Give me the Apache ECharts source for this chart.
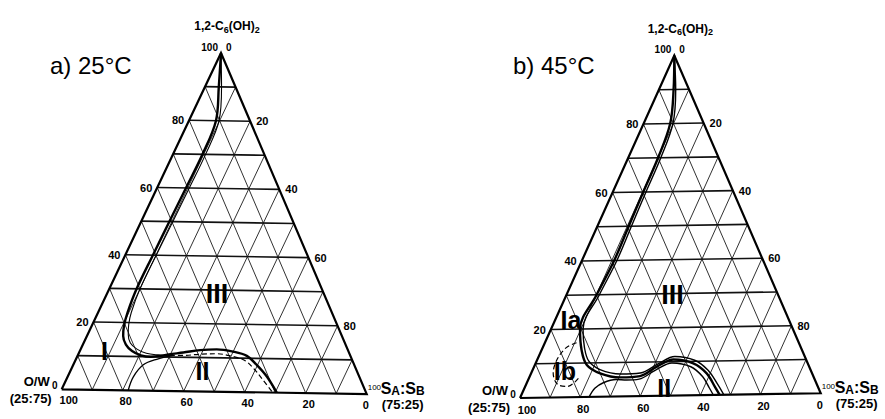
<!DOCTYPE html>
<html><head><meta charset="utf-8">
<script src="https://cdn.jsdelivr.net/npm/echarts@6/dist/echarts.min.js"></script>
<style>html,body{margin:0;padding:0;background:#fff}#c{width:885px;height:419px}</style>
</head><body><div id="c"></div>
<script>
// ================= DATA (ternary compositions, %: [C6(OH)2 (top), SA:SB (right)]) =================
const panelTitles = ['a) 25°C', 'b) 45°C'];
const topComponent = ['1,2-C', '6', '(OH)', '2'];
const leftVertexName = ['O/W', '(25:75)'];
const rightVertexName = ['S', 'A', ':S', 'B', '(75:25)'];
const gridLevels = [10, 20, 30, 40, 50, 60, 70, 80, 90];
const sideTicks = [20, 40, 60, 80];
const bottomTicks = [0, 20, 40, 60, 80, 100];

// panel a) 25 °C
const a_boundaryBold = [[100,0],[90,4.5],[80,8.8],[70,9.6],[60,9.4],[50,9.2],[40,9.0],[30,8.9],[23,9.6],[19,10.5],[16,11.8],[13.5,14],[11.6,17],[10.4,20.5],[10.0,24],[10.3,27],[10.8,29.5],[11.4,33.9],[12.2,39],[12.5,44.3],[11.9,50],[10.7,55.1],[8.1,59.7],[4.7,64.8],[0,70.5]];
const a_boundaryInner = [[100,0],[90,5.4],[80,9.8],[70,10.6],[60,10.5],[50,10.3],[40,10.1],[30,10.0],[23,10.8],[19.5,11.8],[16.5,13.2],[14,15.2],[12.2,18.3],[11,22],[10.6,26],[10.5,30]];
const a_boundaryDashed = [[10.5,30],[10.6,35],[11.0,40],[11.2,45],[10.6,50],[9.4,55],[7,59.3],[3.5,64.3],[0,69.2]];
const a_boundaryII = [[0,21.8],[4,21.4],[7.6,22.8],[9.3,26.3],[10.5,31]];
const a_regions = [['III',28.8,35.9],['I',11.5,8.0],['II',6.0,43.0]];

// panel b) 45 °C
const b_boundaryBold = [[100,0],[90,4.9],[80,8.9],[70,10],[60,10.2],[50,10.5],[40,10.8],[30,10.1],[20,9.7],[13.8,13.4],[9.4,17.4],[6.9,23.1],[5.6,30.4],[5.9,36.9],[8.6,41.1],[10.6,45.6],[9.4,52.8],[6.4,58.8],[2.4,63.6],[0,66.4]];
const b_boundaryOuter = [[100,0],[90,5.6],[80,9.8],[70,10.9],[60,11.1],[50,11.4],[40,11.7],[30,11.0],[20,10.7],[14.5,14],[10.5,17.5],[8,22.5],[6.6,30],[6.8,36.5],[9.5,41.2],[11.5,45.6],[10.3,52.8],[7.3,58.8],[3.4,63.8],[0,67.8]];
const b_boundaryII = [[0,23],[2.5,23.6],[4.1,25.6],[5.0,29.4],[4.8,33],[5.0,37],[7.6,41.2],[9.6,45.6],[8.4,52.5],[5.4,58],[2.0,62],[0,64.3]];
const b_loopIb = [[16.0,10.6],[14.6,7.9],[11,6.6],[7.1,7.4],[3.8,10.6],[3.2,14.2],[5.5,16.6]];
const b_regions = [['III',29.5,35.6],['Ia',22.7,5.3],['Ib',7.7,11.0],['II',2.3,46.8]];

// ================= LAYOUT / STYLE =================
const FONT = "'Liberation Sans',Arial,sans-serif";
const panels = [
  { title: panelTitles[0], titlePos: [50, 53], A: [221, 53], L: [61.7, 389.3], R: [366.7, 394], bottomDy: 11,
    curves: [
      { pts: a_boundaryInner, w: 1.1 },
      { pts: a_boundaryDashed, w: 1.2, dash: true },
      { pts: a_boundaryII, w: 1.3 },
      { pts: a_boundaryBold, w: 2.4 }
    ], regions: a_regions },
  { title: panelTitles[1], titlePos: [513, 53], A: [674.3, 55.5], L: [520, 398], R: [820.7, 393.3], bottomDy: 12,
    curves: [
      { pts: b_boundaryOuter, w: 1.4 },
      { pts: b_boundaryII, w: 1.4 },
      { pts: b_boundaryBold, w: 2.4 },
      { pts: b_loopIb, w: 1.2, dash: true }
    ], regions: b_regions }
];

function tp(p, c, r) {
  const l = 100 - c - r;
  return [(p.L[0] * l + p.R[0] * r + p.A[0] * c) / 100, (p.L[1] * l + p.R[1] * r + p.A[1] * c) / 100];
}
function off(pt, dx, dy) { return [pt[0] + dx, pt[1] + dy]; }
function lbl(pt, text, o) {
  return { value: pt, label: Object.assign({ show: true, position: 'inside', formatter: text, color: '#000',
    opacity: 1, textBorderWidth: 0, fontFamily: FONT, fontSize: 11, fontWeight: 'bold',
    align: 'center', verticalAlign: 'middle' }, o || {}) };
}

const series = [];
panels.forEach(p => {
  const hSeg = [], dSeg = [];
  gridLevels.forEach(k => {
    hSeg.push({ coords: [tp(p, k, 0), tp(p, k, 100 - k)] });
    dSeg.push({ coords: [tp(p, 0, k), tp(p, 100 - k, k)] });
    dSeg.push({ coords: [tp(p, 0, 100 - k), tp(p, 100 - k, 0)] });
  });
  series.push({ type: 'lines', coordinateSystem: 'cartesian2d', silent: true, z: 1, data: dSeg,
    lineStyle: { color: '#1a1a1a', width: 0.9, opacity: 1 } });
  series.push({ type: 'lines', coordinateSystem: 'cartesian2d', silent: true, z: 1, data: hSeg,
    lineStyle: { color: '#111', width: 1.6, opacity: 1 } });
  series.push({ type: 'line', silent: true, z: 2, symbol: 'none',
    data: [tp(p, 0, 0), tp(p, 0, 100), tp(p, 100, 0), tp(p, 0, 0)],
    lineStyle: { color: '#000', width: 2.2, join: 'miter' } });
  p.curves.forEach(cv => {
    series.push({ type: 'line', silent: true, z: 3, symbol: 'none', smooth: 0.35,
      data: cv.pts.map(q => tp(p, q[0], q[1])),
      lineStyle: { color: '#000', width: cv.w, type: cv.dash ? [5, 3] : 'solid' } });
  });

  const labels = [];
  sideTicks.forEach(c => labels.push(lbl(off(tp(p, c, 0), -5, 0), String(c), { align: 'right' })));
  sideTicks.forEach(c => labels.push(lbl(off(tp(p, c, 100 - c), 6, 0), String(100 - c), { align: 'left' })));
  bottomTicks.forEach(r => labels.push(lbl(off(tp(p, 0, r), r === 0 ? 7 : (r === 100 ? -1 : 3), p.bottomDy), String(100 - r))));
  labels.push(lbl(off(tp(p, 100, 0), -3, -6), '100', { align: 'right', fontSize: 10 }));
  labels.push(lbl(off(tp(p, 100, 0), 5, -6), '0', { align: 'left', fontSize: 10 }));
  labels.push(lbl(off(tp(p, 100, 0), 6, -27), '{m|' + topComponent[0] + '}{s|' + topComponent[1] + '}{m|' + topComponent[2] + '}{s|' + topComponent[3] + '}',
    { rich: { m: { fontFamily: FONT, fontSize: 12, fontWeight: 'bold', lineHeight: 16, color: '#000' },
              s: { fontFamily: FONT, fontSize: 9, fontWeight: 'bold', lineHeight: 8, verticalAlign: 'bottom', color: '#000' } } }));
  labels.push(lbl(off(tp(p, 0, 0), -7, -4), '0', { fontSize: 10 }));
  labels.push(lbl(off(tp(p, 0, 0), -12, -8), leftVertexName[0], { align: 'right', fontSize: 13 }));
  labels.push(lbl(off(tp(p, 0, 0), -10, 9), leftVertexName[1], { align: 'right', fontSize: 13 }));
  labels.push(lbl(off(tp(p, 0, 100), 1, -7), '100', { align: 'left', fontSize: 8, fontWeight: 'normal' }));
  labels.push(lbl(off(tp(p, 0, 100), 14, -6),
    '{m|' + rightVertexName[0] + '}{s|' + rightVertexName[1] + '}{m|' + rightVertexName[2] + '}{s|' + rightVertexName[3] + '}',
    { align: 'left', rich: { m: { fontFamily: FONT, fontSize: 16, lineHeight: 18, color: '#000' },
                             s: { fontFamily: FONT, fontSize: 12, lineHeight: 10, verticalAlign: 'bottom', color: '#000' } } }));
  labels.push(lbl(off(tp(p, 0, 100), 15, 10), rightVertexName[4], { align: 'left', fontSize: 13 }));
  p.regions.forEach(rg => labels.push(lbl(tp(p, rg[1], rg[2]), rg[0],
    { fontSize: rg[0] === 'III' ? 27 : 25, fontWeight: 'bold' })));

  series.push({ type: 'scatter', silent: true, z: 5, symbolSize: 0, itemStyle: { color: '#000', opacity: 1 }, data: labels });
});

const chart = echarts.init(document.getElementById('c'), null, { renderer: 'svg' });
chart.setOption({
  animation: false,
  backgroundColor: '#fff',
  title: panels.map(p => ({ text: p.title, left: p.titlePos[0], top: p.titlePos[1], padding: 0,
    textStyle: { fontFamily: FONT, fontSize: 24, fontWeight: 'normal', color: '#000' } })),
  grid: { left: 0, right: 0, top: 0, bottom: 0, containLabel: false },
  xAxis: { type: 'value', min: 0, max: 885, show: false },
  yAxis: { type: 'value', min: 0, max: 419, inverse: true, show: false },
  series: series
});
</script></body></html>
